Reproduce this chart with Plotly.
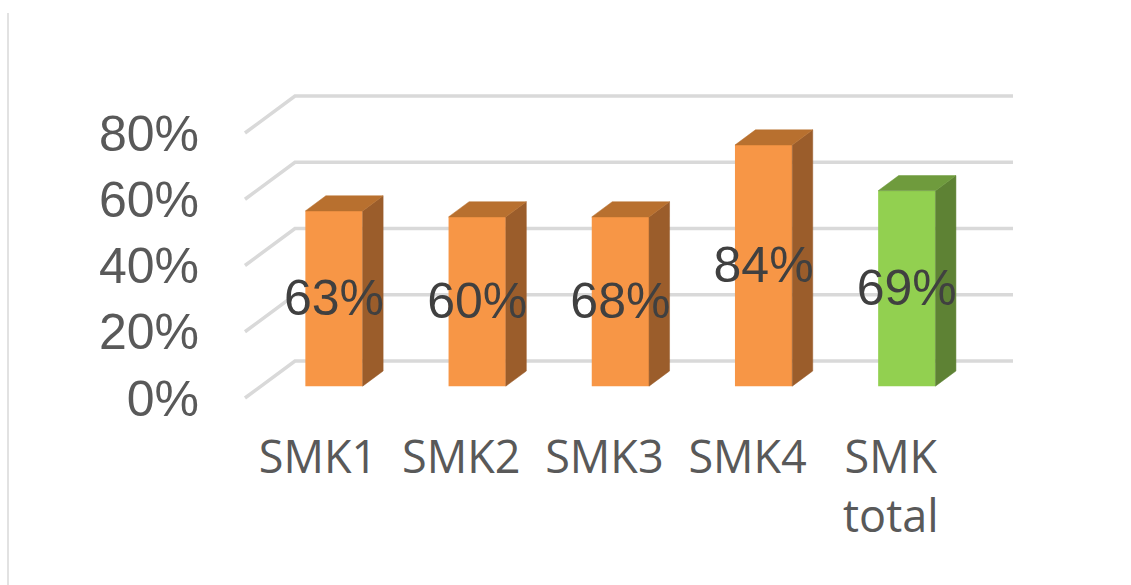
import plotly.graph_objects as go

# ---- data ----
categories = ["SMK1", "SMK2", "SMK3", "SMK4", "SMK<br>total"]
bar_values = [52.9, 51.1, 51.1, 72.8, 59.0]          # bar heights as drawn (%)
label_text = ["63%", "60%", "68%", "84%", "69%"]      # data labels shown on bars
tick_values = [0, 20, 40, 60, 80]
tick_labels = ["0%", "20%", "40%", "60%", "80%"]

# ---- styling / pseudo-3D geometry ----
W, H = 1131, 585
L, R, T, B = 200, 1020, 90, 420
PX_PER_X = 143.2
PX_PER_Y = 3.3125
X0 = -(318 - L) / PX_PER_X
X1 = (R - 318) / PX_PER_X
Y0 = -(B - 398) / PX_PER_Y
Y1 = (398 - T) / PX_PER_Y

DX = 50 / PX_PER_X      # full depth shift (x units)
DY = 37 / PX_PER_Y      # full depth shift (y units)
F_FRONT, F_BACK = 0.32, 0.73
BAR_W = 0.40
GRID_XF = -0.51
GRID_XE = (1013 - 318) / PX_PER_X
LABEL_NUDGE = -1.2      # small vertical nudge for label baseline rendering

front_cols = ["#F79646", "#F79646", "#F79646", "#F79646", "#92D050"]
top_cols = ["#B8702F", "#B8702F", "#B8702F", "#B8702F", "#6F9B3D"]
side_cols = ["#9B5D2B", "#9B5D2B", "#9B5D2B", "#9B5D2B", "#5E8234"]

fig = go.Figure()

xs = list(range(len(categories)))
base0 = F_FRONT * DY
bar_x = [i + F_FRONT * DX for i in xs]

# front faces
fig.add_trace(go.Bar(
    x=bar_x, y=bar_values, base=[base0] * len(xs), width=BAR_W,
    marker=dict(color=front_cols, line=dict(width=0)),
    hoverinfo="skip", showlegend=False,
))

ddx = (F_BACK - F_FRONT) * DX
ddy = (F_BACK - F_FRONT) * DY
for i, v in enumerate(bar_values):
    xl = bar_x[i] - BAR_W / 2
    xr = bar_x[i] + BAR_W / 2
    top = base0 + v
    # side face
    fig.add_trace(go.Scatter(
        x=[xr, xr + ddx, xr + ddx, xr, xr],
        y=[base0, base0 + ddy, top + ddy, top, base0],
        fill="toself", fillcolor=side_cols[i], mode="lines",
        line=dict(color=side_cols[i], width=0.5),
        hoverinfo="skip", showlegend=False,
    ))
    # top face
    fig.add_trace(go.Scatter(
        x=[xl, xl + ddx, xr + ddx, xr, xl],
        y=[top, top + ddy, top + ddy, top, top],
        fill="toself", fillcolor=top_cols[i], mode="lines",
        line=dict(color=top_cols[i], width=0.5),
        hoverinfo="skip", showlegend=False,
    ))

# data labels
fig.add_trace(go.Scatter(
    x=bar_x, y=[base0 + v / 2 + LABEL_NUDGE for v in bar_values], text=label_text,
    mode="text", textposition="middle center",
    textfont=dict(family="Liberation Sans, Arial", size=50, color="#404040"),
    hoverinfo="skip", showlegend=False,
))

# 3D gridlines (below traces)
shapes = []
for t in tick_values:
    shapes.append(dict(
        type="path", xref="x", yref="y", layer="below",
        path=f"M {GRID_XF},{t} L {GRID_XF + DX},{t + DY} L {GRID_XE},{t + DY}",
        line=dict(color="#D9D9D9", width=3.5),
    ))
# left border line of chart area
shapes.append(dict(
    type="line", xref="paper", yref="paper",
    x0=(8 - L) / (R - L), x1=(8 - L) / (R - L),
    y0=(B - 585) / (B - T), y1=(B - 13) / (B - T),
    line=dict(color="#D9D9D9", width=1.5),
))

fig.update_layout(
    width=W, height=H,
    margin=dict(l=L, r=W - R, t=T, b=H - B),
    paper_bgcolor="white", plot_bgcolor="white",
    shapes=shapes,
    xaxis=dict(
        range=[X0, X1], tickvals=xs, ticktext=categories,
        showgrid=False, zeroline=False, showline=False, ticks="",
        tickfont=dict(family="Open Sans", size=45, color="#595959"),
        ticklabelstandoff=7,
        fixedrange=True,
    ),
    yaxis=dict(
        range=[Y0, Y1], tickvals=tick_values, ticktext=tick_labels,
        showgrid=False, zeroline=False, showline=False, ticks="",
        tickfont=dict(family="Liberation Sans, Arial", size=50, color="#595959"),
        fixedrange=True,
    ),
    showlegend=False,
)

fig.write_html("out.html")
